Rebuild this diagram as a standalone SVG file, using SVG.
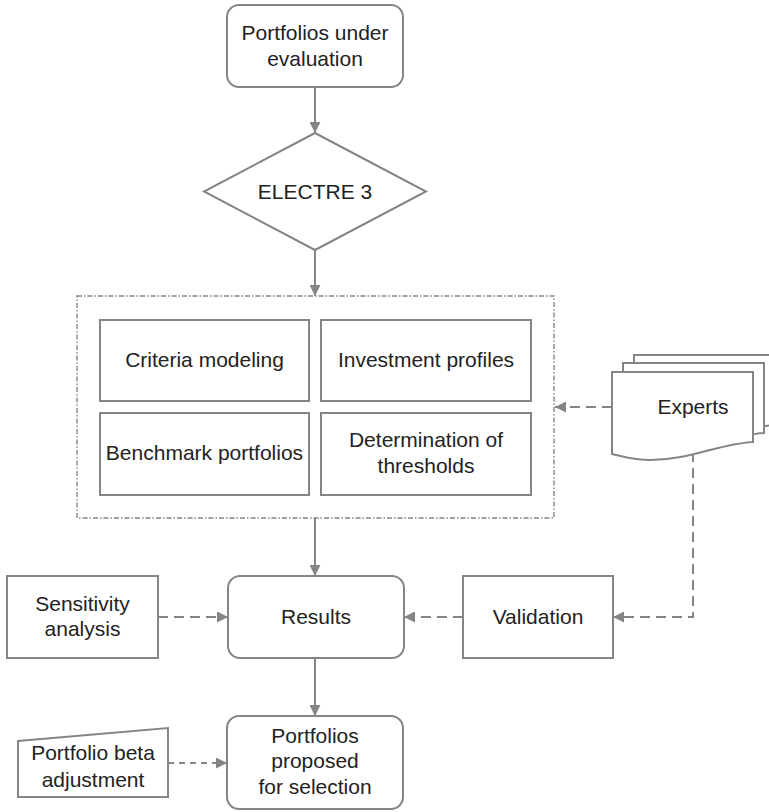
<svg xmlns="http://www.w3.org/2000/svg" width="769" height="812" viewBox="0 0 769 812">
  <style>
    .box { fill: #ffffff; stroke: #858585; stroke-width: 2; }
    .label { font-family: "Liberation Sans", Arial, Helvetica, sans-serif; font-size: 21px; fill: #222222; text-anchor: middle; }
    .flow { fill: none; stroke: #858585; stroke-width: 2; }
    .dash { fill: none; stroke: #858585; stroke-width: 2; stroke-dasharray: 10 6; }
    .dash-short { fill: none; stroke: #858585; stroke-width: 2; stroke-dasharray: 6 5; }
    .group-frame { fill: none; stroke: #858585; stroke-width: 1.4; stroke-dasharray: 5 2 1.5 2; }
  </style>
  <defs>
    <marker id="arrow" viewBox="0 0 10 10" refX="10" refY="5" markerWidth="11" markerHeight="11" markerUnits="userSpaceOnUse" orient="auto">
      <path d="M0,0 L10,5 L0,10 z" fill="#858585"/>
    </marker>
    <path id="doc" d="M612,372 H753 V442 C718,444 690,460 650,460 C634,460 622,456 612,454 Z"/>
  </defs>

  <rect width="769" height="812" fill="#ffffff"/>

  <!-- connectors -->
  <g id="connectors">
    <line class="flow" x1="315" y1="87" x2="315" y2="133" marker-end="url(#arrow)"/>
    <line class="flow" x1="315" y1="250" x2="315" y2="296" marker-end="url(#arrow)"/>
    <line class="flow" x1="315" y1="518" x2="315" y2="576" marker-end="url(#arrow)"/>
    <line class="flow" x1="315" y1="658" x2="315" y2="716" marker-end="url(#arrow)"/>
    <line class="dash" x1="612" y1="407" x2="555" y2="407" marker-end="url(#arrow)"/>
    <path class="dash" d="M693,452 V617 H613" marker-end="url(#arrow)"/>
    <line class="dash" x1="463" y1="617" x2="404" y2="617" marker-end="url(#arrow)"/>
    <line class="dash" x1="158" y1="617" x2="228" y2="617" marker-end="url(#arrow)"/>
    <line class="dash-short" x1="168" y1="763" x2="227" y2="763" marker-end="url(#arrow)"/>
  </g>

  <g id="portfolios-under-evaluation">
    <rect class="box" x="227" y="5" width="176" height="82" rx="12"/>
    <text class="label" x="315" y="40">Portfolios under</text>
    <text class="label" x="315" y="66">evaluation</text>
  </g>

  <g id="electre3">
    <polygon class="box" points="315,133 426,191.5 315,250 204,191.5"/>
    <text class="label" x="315" y="199">ELECTRE 3</text>
  </g>

  <g id="model-setup">
    <rect class="group-frame" x="77" y="296" width="477" height="222"/>
    <g id="criteria-modeling">
      <rect class="box" x="100" y="320" width="209" height="81"/>
      <text class="label" x="204.5" y="367">Criteria modeling</text>
    </g>
    <g id="investment-profiles">
      <rect class="box" x="321" y="320" width="210" height="81"/>
      <text class="label" x="426" y="367">Investment profiles</text>
    </g>
    <g id="benchmark-portfolios">
      <rect class="box" x="100" y="413" width="209" height="82"/>
      <text class="label" x="204.5" y="460">Benchmark portfolios</text>
    </g>
    <g id="thresholds">
      <rect class="box" x="321" y="413" width="210" height="82"/>
      <text class="label" x="426" y="447">Determination of</text>
      <text class="label" x="426" y="473">thresholds</text>
    </g>
  </g>

  <g id="experts">
    <use href="#doc" class="box" transform="translate(22,-17)"/>
    <use href="#doc" class="box" transform="translate(11,-9)"/>
    <use href="#doc" class="box"/>
    <text class="label" x="693" y="414">Experts</text>
  </g>

  <g id="sensitivity-analysis">
    <rect class="box" x="7" y="576" width="151" height="82"/>
    <text class="label" x="82.5" y="611">Sensitivity</text>
    <text class="label" x="82.5" y="636">analysis</text>
  </g>

  <g id="results">
    <rect class="box" x="228" y="576" width="176" height="82" rx="12"/>
    <text class="label" x="316" y="624">Results</text>
  </g>

  <g id="validation">
    <rect class="box" x="463" y="576" width="150" height="82"/>
    <text class="label" x="538" y="624">Validation</text>
  </g>

  <g id="beta-adjustment">
    <polygon class="box" points="18,741 168,728 168,797 18,797"/>
    <text class="label" x="93" y="760">Portfolio beta</text>
    <text class="label" x="93" y="787">adjustment</text>
  </g>

  <g id="portfolios-proposed">
    <rect class="box" x="227" y="716" width="176" height="93" rx="12"/>
    <text class="label" x="315" y="743">Portfolios</text>
    <text class="label" x="315" y="768">proposed</text>
    <text class="label" x="315" y="794">for selection</text>
  </g>
</svg>
